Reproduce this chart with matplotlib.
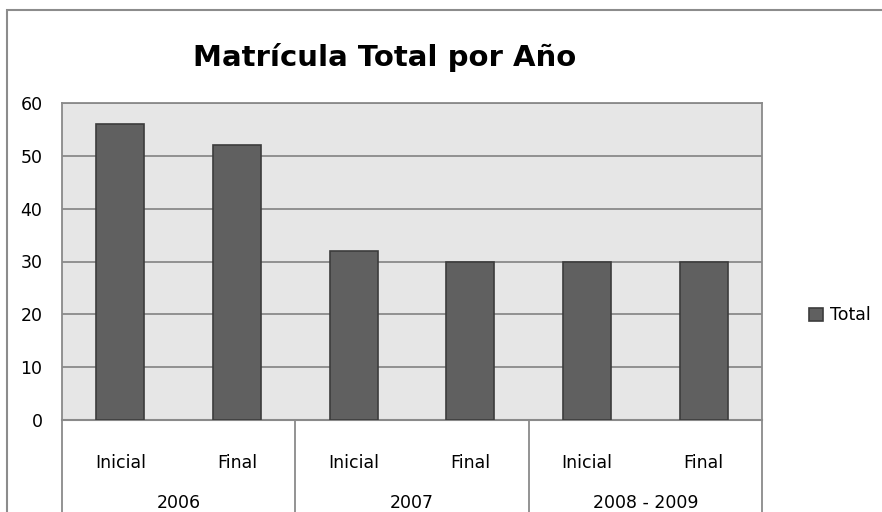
import matplotlib.pyplot as plt
from matplotlib.patches import Rectangle

# datos
periodos = ["Inicial", "Final", "Inicial", "Final", "Inicial", "Final"]
anios = ["2006", "2007", "2008 - 2009"]
total = [56, 52, 32, 30, 30, 30]

W, H = 882, 512
fig = plt.figure(figsize=(W / 100, H / 100), dpi=100)
fig.patch.set_facecolor("white")

# borde exterior del grafico
fig.add_artist(Rectangle((7 / W, -0.1), 1.2, 1 - 10 / H + 0.1, transform=fig.transFigure,
                         fill=False, edgecolor="#8c8c8c", linewidth=1.5))

ax = fig.add_axes([62 / W, 1 - 420 / H, 700 / W, 317 / H])
ax.set_facecolor("#e6e6e6")

x = list(range(len(total)))
ax.bar(x, total, width=0.41, color="#606060", edgecolor="#3c3c3c", linewidth=1.2,
       label="Total", zorder=3)

ax.set_xlim(-0.5, len(total) - 0.5)
ax.set_ylim(0, 60)
ax.set_yticks(range(0, 61, 10))
ax.yaxis.grid(True, color="#8a8a8a", linewidth=1.3, zorder=1)
ax.tick_params(axis="y", length=0, pad=14, labelsize=12.5)
ax.set_xticks([])
for s in ["top", "right", "left"]:
    ax.spines[s].set_color("#8a8a8a")
    ax.spines[s].set_linewidth(1.3)
ax.spines["bottom"].set_color("#8a8a8a")
ax.spines["bottom"].set_linewidth(1.5)

# tabla de categorias debajo del eje
tr = ax.get_xaxis_transform()
for i, p in enumerate(periodos):
    ax.text(i, -0.136, p, transform=tr, ha="center", va="center", fontsize=12.5)
for j, a in enumerate(anios):
    ax.text(2 * j + 0.5, -0.262, a, transform=tr, ha="center", va="center", fontsize=12.5)
for b in [-0.5, 1.5, 3.5, 5.5]:
    ax.plot([b, b], [0, -0.35], transform=tr, color="#8a8a8a", linewidth=1.3, clip_on=False)

fig.text(385 / W, 1 - 58 / H, "Matrícula Total por Año", ha="center", va="center",
         fontsize=21, fontweight="bold")

ax.legend(loc="center left", bbox_to_anchor=(1.045, 0.33), frameon=False, fontsize=12.5,
          handlelength=0.8, handleheight=0.8, handletextpad=0.4)

fig.savefig("out.png", dpi=100)
